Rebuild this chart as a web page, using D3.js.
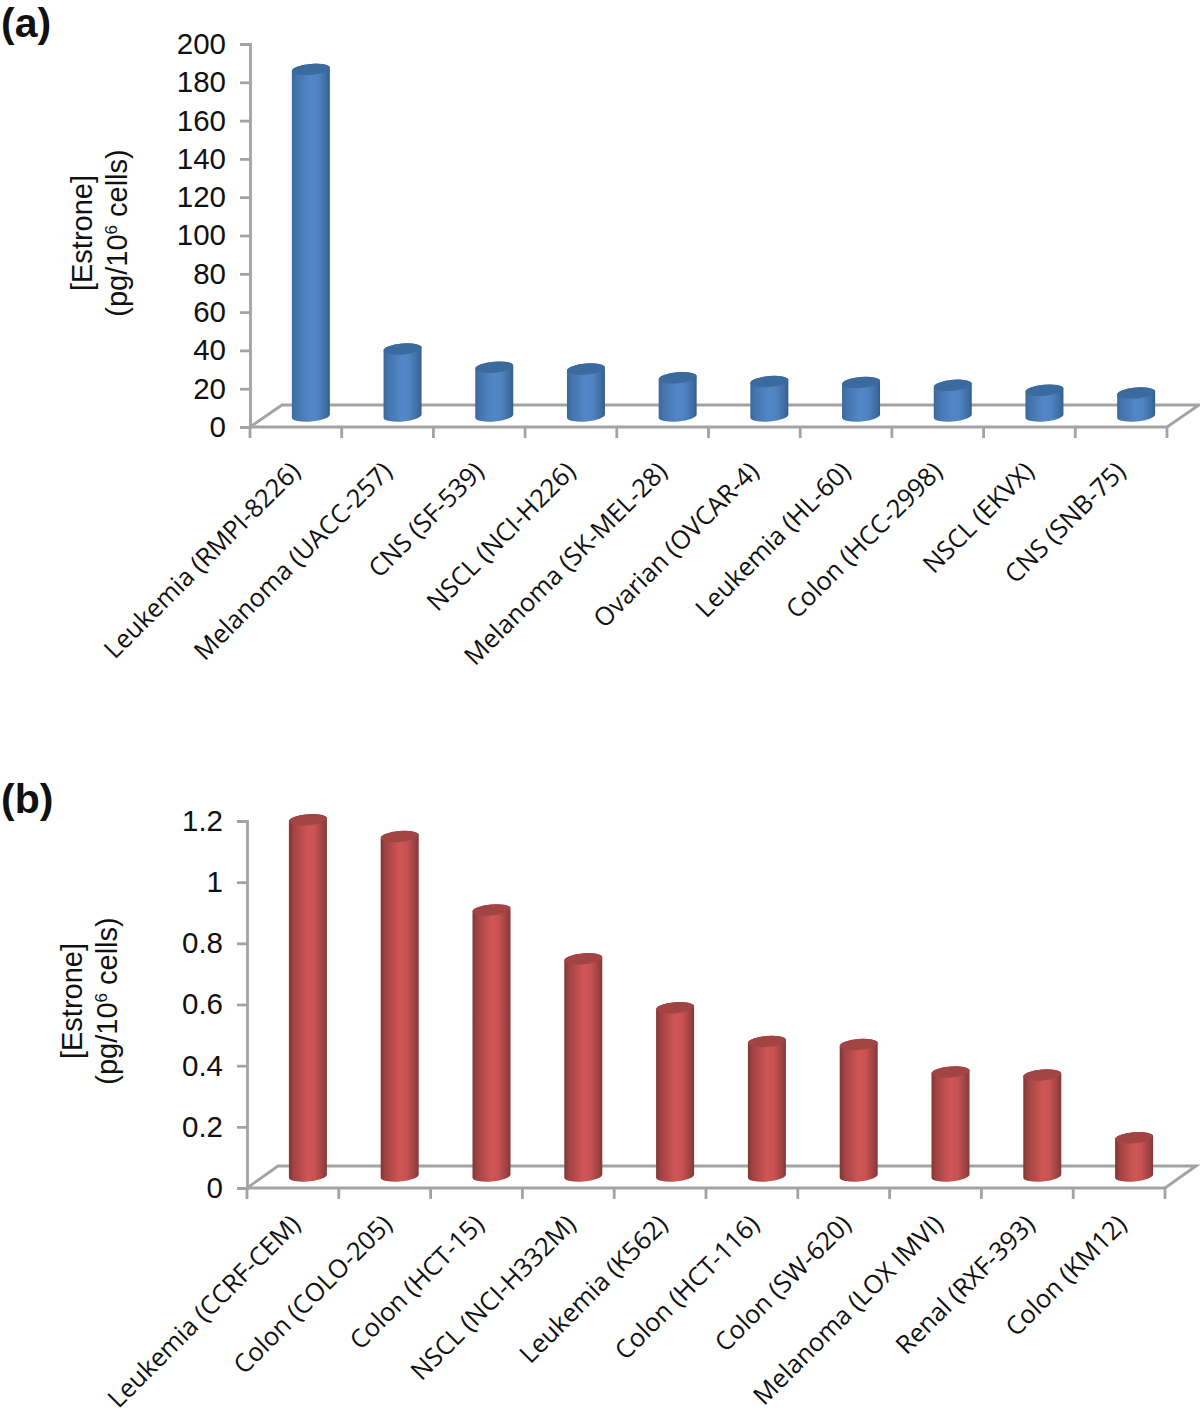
<!DOCTYPE html>
<html><head><meta charset="utf-8">
<script src="https://cdn.jsdelivr.net/npm/d3@7"></script>
<style>html,body{margin:0;padding:0;background:#fff}svg{display:block}</style></head>
<body><svg id="c" width="1200" height="1415"></svg>
<script>
const categoriesA = ["Leukemia (RMPI-8226)","Melanoma (UACC-257)","CNS (SF-539)","NSCL (NCI-H226)","Melanoma (SK-MEL-28)","Ovarian (OVCAR-4)","Leukemia (HL-60)","Colon (HCC-2998)","NSCL (EKVX)","CNS (SNB-75)"];
const valuesA = [181,35,25.5,24.5,20,18,17.5,16,13.5,12];
const ticksA = [0,20,40,60,80,100,120,140,160,180,200];
const categoriesB = ["Leukemia (CCRF-CEM)","Colon (COLO-205)","Colon (HCT-15)","NSCL (NCI-H332M)","Leukemia (K562)","Colon (HCT-116)","Colon (SW-620)","Melanoma (LOX IMVI)","Renal (RXF-393)","Colon (KM12)"];
const valuesB = [1.165,1.11,0.87,0.71,0.55,0.44,0.43,0.34,0.33,0.125];
const ticksB = [0,0.2,0.4,0.6,0.8,1,1.2];

const svg = d3.select("#c");
const defs = svg.append("defs");
const AXIS = "#a3a3a3", SANS = "'Liberation Sans',Arial,sans-serif", LABEL = "'Open Sans','Noto Sans',sans-serif";

function gradient(id, stops){
  const g = defs.append("linearGradient").attr("id",id).attr("x1",0).attr("x2",1).attr("y1",0).attr("y2",0);
  stops.forEach(([o,c])=>g.append("stop").attr("offset",o).attr("stop-color",c));
}
gradient("blue",[[0,"#3a689f"],[0.12,"#4474ad"],[0.5,"#5287c8"],[0.68,"#4f83c2"],[0.9,"#3f6da3"],[1,"#345d8e"]]);
gradient("red",[[0,"#7f3534"],[0.12,"#a04342"],[0.5,"#cf5655"],[0.68,"#c95352"],[0.9,"#9c4241"],[1,"#853736"]]);

function panel(o){
  const g = svg.append("g");
  const y = d3.scaleLinear().domain(o.domain).range([o.y0,o.y1]);
  const x = d3.scaleBand().domain(o.categories).range([o.x0,o.x1]);
  const dx = o.depthX, dy = o.depthY;
  const line = (a,b,c,d)=>g.append("line").attr("x1",a).attr("y1",b).attr("x2",c).attr("y2",d)
    .attr("stroke",AXIS).attr("stroke-width",2.8);

  // floor
  g.append("path").attr("fill","none").attr("stroke",AXIS).attr("stroke-width",2.8)
    .attr("d",`M${o.x0},${o.y0}L${o.x0+dx},${o.y0-dy}L${o.x1+dx},${o.y0-dy}L${o.x1},${o.y0}`);

  // y axis
  const ya = g.append("g").attr("transform",`translate(${o.x0},0)`)
    .call(d3.axisLeft(y).tickValues(o.ticks).tickSize(10).tickPadding(14).tickFormat(d=>String(d)));
  ya.selectAll("path,line").attr("stroke",AXIS).attr("stroke-width",2.8);
  ya.selectAll("text").attr("font-family",SANS).attr("font-size",o.tickSize).attr("fill","#111");

  // x axis
  line(o.x0,o.y0,o.x1,o.y0);
  [...o.categories.map(c=>x(c)),o.x1].forEach(t=>line(t,o.y0,t,o.y0+11));

  // bars
  const rx = o.barW/2, ry = 5.5, tilt = 5;
  const lift = rx*Math.sin(tilt*Math.PI/180);
  const cx = c=>x(c)+x.bandwidth()/2+o.barShift;
  const base = y(0)-o.baseLift;
  const top = v=>y(v)-o.baseLift;
  const bars = g.selectAll(".bar").data(o.categories.map((c,i)=>({c,v:o.values[i]}))).join("g");
  bars.append("path").attr("fill",`url(#${o.fill})`)
    .attr("d",d=>{
      const l=cx(d.c)-rx,r=cx(d.c)+rx;
      return `M${l},${top(d.v)+lift}A${rx},${ry} ${-tilt} 0 1 ${r},${top(d.v)-lift}`+
             `L${r},${base-lift}A${rx},${ry} ${-tilt} 0 1 ${l},${base+lift}Z`;
    });
  bars.append("ellipse").attr("rx",rx).attr("ry",ry).attr("fill",o.topFill)
    .attr("transform",d=>`translate(${cx(d.c)},${top(d.v)}) rotate(${-tilt})`);

  // category labels
  g.selectAll(".lab").data(o.categories).join("text")
    .attr("font-family",LABEL).attr("font-size",25.5).attr("fill","#111").attr("text-anchor","end")
    .attr("transform",c=>`translate(${cx(c)+o.labelDx},${o.y0+o.labelDy}) rotate(-45)`)
    .text(c=>c);

  // y title
  const t = g.append("text").attr("transform",`translate(${o.titleX},${o.titleY}) rotate(-90)`)
    .attr("font-family",SANS).attr("font-size",29).attr("fill","#111").attr("text-anchor","middle");
  t.append("tspan").attr("x",0).attr("y",0).text("[Estrone]");
  const t2 = t.append("tspan").attr("x",0).attr("y",35);
  t2.append("tspan").text("(pg/10");
  t2.append("tspan").attr("font-size",17).attr("dy",-10).text("6");
  t2.append("tspan").attr("dy",10).text(" cells)");

  svg.append("text").attr("x",o.letterX).attr("y",o.letterY).attr("font-family",SANS)
    .attr("font-weight","bold").attr("font-size",41).attr("fill","#111").text(o.letter);
}

panel({categories:categoriesA,values:valuesA,ticks:ticksA,domain:[0,200],x0:250,x1:1167,y0:427,y1:44,
  depthX:32,depthY:22,barW:38,barShift:15,baseLift:11,fill:"blue",topFill:"#3b6a9f",
  tickSize:29.5,labelDx:-9,labelDy:46,titleX:92,titleY:233,letter:"(a)",letterX:1,letterY:37});
panel({categories:categoriesB,values:valuesB,ticks:ticksB,domain:[0,1.2],x0:247,x1:1165,y0:1188,y1:821,
  depthX:31,depthY:22,barW:38,barShift:15,baseLift:12,fill:"red",topFill:"#a14443",
  tickSize:29.5,labelDx:-6,labelDy:38,titleX:82,titleY:1001,letter:"(b)",letterX:1,letterY:813});
</script></body></html>
